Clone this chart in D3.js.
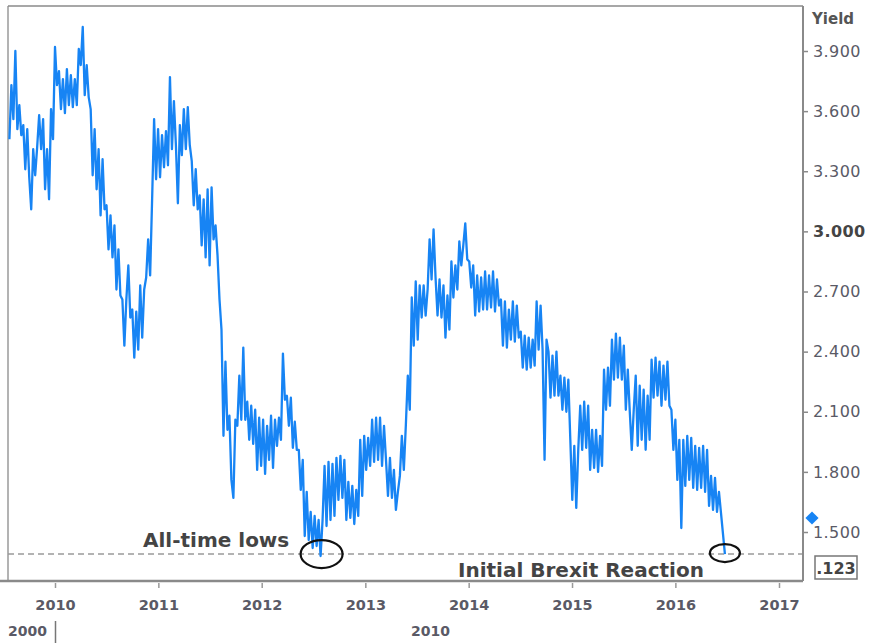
<!DOCTYPE html>
<html>
<head>
<meta charset="utf-8">
<script src="https://cdn.jsdelivr.net/npm/d3@7"></script>
<style>
body { margin: 0; background: #fff; }
text { font-family: "DejaVu Sans", sans-serif; }
</style>
</head>
<body>
<script>
// weekly 10y yield, one array per calendar year
var firstWeek = "2009-07-24";
var y2009 = [3.46,3.73,3.56,3.90,3.51,3.63,3.48,3.53,3.31,3.51,3.27,3.11,3.41,3.28,3.42,3.58,3.41,3.56,3.21,3.41,3.16,3.61,3.46,3.92];
var y2010 = [3.73,3.80,3.61,3.76,3.59,3.81,3.63,3.78,3.62,3.76,3.63,3.91,3.83,4.02,3.68,3.83,3.67,3.61,3.28,3.51,3.21,3.41,3.08,3.36,3.11,3.13,
             2.91,3.08,2.87,3.03,2.71,2.91,2.68,2.66,2.43,2.66,2.83,2.57,2.61,2.37,2.60,2.41,2.73,2.47,2.71,2.77,2.96,2.78,3.16,3.56,3.26,3.51];
var y2011 = [3.27,3.48,3.32,3.50,3.33,3.77,3.41,3.65,3.43,3.14,3.53,3.38,3.61,3.41,3.62,3.43,3.35,3.13,3.31,3.11,3.18,2.93,3.16,2.87,3.21,2.83,
             3.22,2.96,3.03,2.88,2.66,2.51,1.98,2.35,2.01,2.08,1.76,1.67,2.06,2.03,2.28,2.06,2.42,2.06,2.15,1.96,2.13,1.94,2.11,1.81,2.07,1.83];
var y2012 = [2.06,1.79,2.03,1.86,2.08,1.82,2.06,1.93,2.07,1.96,2.39,2.16,2.18,2.03,2.17,1.92,2.05,1.91,1.91,1.71,1.86,1.48,1.70,1.46,1.60,1.42,
             1.58,1.43,1.56,1.38,1.56,1.83,1.53,1.85,1.56,1.84,1.58,1.87,1.66,1.88,1.67,1.86,1.56,1.75,1.57,1.73,1.54,1.71,1.58,1.96,1.68];
var y2013 = [1.98,1.81,1.97,1.83,2.06,1.85,2.07,1.86,2.07,1.83,2.03,1.86,1.68,1.87,1.67,1.81,1.61,1.70,1.78,1.98,1.81,2.03,2.28,2.11,2.67,2.43,
             2.75,2.46,2.73,2.57,2.73,2.58,2.71,2.96,2.76,3.01,2.77,2.58,2.76,2.57,2.73,2.47,2.68,2.51,2.85,2.67,2.83,2.71,2.95,2.83,2.93,3.04];
var y2014 = [2.86,2.85,2.72,2.83,2.58,2.78,2.60,2.77,2.61,2.80,2.61,2.78,2.62,2.80,2.60,2.76,2.63,2.66,2.43,2.65,2.42,2.61,2.46,2.65,2.45,2.63,
             2.47,2.50,2.32,2.48,2.31,2.47,2.32,2.46,2.33,2.65,2.41,2.63,2.41,1.86,2.46,2.40,2.17,2.38,2.18,2.40,2.18,2.28,2.11,2.27,2.10,2.26];
var y2015 = [1.96,1.66,1.93,1.62,1.91,2.13,1.91,2.15,1.92,2.13,1.81,2.01,1.82,2.01,1.80,1.98,1.83,2.31,2.11,2.32,2.13,2.46,2.26,2.49,2.27,2.47,
             2.26,2.43,2.11,2.31,2.10,1.91,2.11,2.28,1.93,2.23,1.96,2.21,1.91,2.18,1.96,2.36,2.17,2.37,2.18,2.35,2.13,2.33,2.16,2.35,2.13,2.11];
var y2016 = [1.91,2.06,1.76,1.96,1.52,1.96,1.73,1.98,1.76,1.97,1.72,1.93,1.71,1.92,1.72,1.93,1.70,1.91,1.63,1.78,1.61,1.77,1.60,1.70];

var brexitDay = ["2016-06-24"];
var brexitLow = [1.39];
var allTimeLow = [1.39];
var lastMark = [1.57];
var yTicks = [1.5, 1.8, 2.1, 2.4, 2.7, 3.0, 3.3, 3.6, 3.9];
var yearTicks = [2010, 2011, 2012, 2013, 2014, 2015, 2016, 2017];
var notes = ["All-time lows", "Initial Brexit Reaction"];

var W = 869, H = 643;
var L = 8, R = 803, T = 6, B = 581;
var blue = "#1784f4", grey = "#8a8a8a", labelCol = "#5a5a66";

var parse = d3.timeParse("%Y-%m-%d");
var weekly = [].concat(y2009, y2010, y2011, y2012, y2013, y2014, y2015, y2016);
var start = parse(firstWeek);
var data = weekly.map(function(v, i) { return {date: d3.timeDay.offset(start, i * 7), v: v}; });
data.push({date: parse(brexitDay[0]), v: brexitLow[0]});

var x = d3.scaleTime()
    .domain([new Date(yearTicks[0], 0, 1), new Date(yearTicks[yearTicks.length - 1], 0, 1)])
    .range([55, 779]);
var y = d3.scaleLinear().domain([1.5, 3.9]).range([532, 51]);

var svg = d3.select("body").append("svg")
    .attr("width", W)
    .attr("height", H);

svg.append("defs").append("clipPath").attr("id", "plot")
  .append("rect").attr("x", L).attr("y", T).attr("width", R - L).attr("height", B - T);

// frame
svg.append("line").attr("x1", L).attr("x2", L).attr("y1", T).attr("y2", B)
    .attr("stroke", "#9a9a9a").attr("stroke-width", 1.5);
svg.append("line").attr("x1", L).attr("x2", R).attr("y1", T).attr("y2", T)
    .attr("stroke", grey).attr("stroke-width", 1.5);

// all-time-low level
svg.append("line")
    .attr("x1", L).attr("x2", R)
    .attr("y1", y(allTimeLow[0])).attr("y2", y(allTimeLow[0]))
    .attr("stroke", "#9b9b9b").attr("stroke-width", 1.5)
    .attr("stroke-dasharray", "6,4");

// the series
svg.append("path")
    .datum(data)
    .attr("clip-path", "url(#plot)")
    .attr("fill", "none")
    .attr("stroke", blue)
    .attr("stroke-width", 2.3)
    .attr("stroke-linejoin", "round")
    .attr("d", d3.line().x(function(d) { return x(d.date); }).y(function(d) { return y(d.v); }));

// right axis
var ya = svg.append("g").attr("transform", "translate(" + R + ",0)")
    .call(d3.axisRight(y).tickValues(yTicks).tickFormat(d3.format(".3f")).tickSize(5).tickPadding(5));
ya.select(".domain").remove();
ya.selectAll(".tick line").attr("stroke", grey).attr("stroke-width", 1.5);
ya.selectAll(".tick text")
    .style("font-size", "16px")
    .style("letter-spacing", "0.4px")
    .style("font-weight", function(d) { return d === 3 ? "bold" : "normal"; })
    .attr("fill", function(d) { return d === 3 ? "#444" : labelCol; });

svg.append("line").attr("x1", R).attr("x2", R).attr("y1", T).attr("y2", B)
    .attr("stroke", grey).attr("stroke-width", 2);

svg.append("text").attr("x", 812).attr("y", 24)
    .text("Yield")
    .attr("fill", "#555")
    .style("font-size", "15px").style("font-weight", "bold");

// bottom axis
var xa = svg.append("g").attr("transform", "translate(0," + B + ")")
    .call(d3.axisBottom(x).ticks(d3.timeYear.every(1)).tickSize(7).tickFormat(d3.timeFormat("%Y")));
xa.select(".domain").remove();
xa.selectAll(".tick line").attr("stroke", "#999").attr("y1", 2).attr("stroke-width", 1.5);
xa.selectAll(".tick text")
    .attr("y", 29).attr("dy", 0)
    .attr("fill", labelCol)
    .style("font-size", "14.5px").style("font-weight", "bold");

svg.append("line").attr("x1", 0).attr("x2", R).attr("y1", B).attr("y2", B)
    .attr("stroke", grey).attr("stroke-width", 2.5);

// decade row
svg.append("text").attr("x", 47).attr("y", 636).attr("text-anchor", "end")
    .text("2000").attr("fill", labelCol)
    .style("font-size", "14px").style("font-weight", "bold");
svg.append("line").attr("x1", 55.5).attr("x2", 55.5).attr("y1", 621).attr("y2", 643)
    .attr("stroke", "#777").attr("stroke-width", 1.5);
svg.append("text").attr("x", 411).attr("y", 636)
    .text("2010").attr("fill", labelCol)
    .style("font-size", "14px").style("font-weight", "bold");

// last value marker and label box
svg.append("path")
    .attr("transform", "translate(812," + y(lastMark[0]) + ")")
    .attr("d", d3.symbol(d3.symbolDiamond2, 110)())
    .attr("fill", blue);
svg.append("rect").attr("x", 815).attr("y", 556).attr("width", 42).attr("height", 23)
    .attr("fill", "#fff").attr("stroke", "#777").attr("stroke-width", 1.5);
svg.append("text").attr("x", 836).attr("y", 574).attr("text-anchor", "middle")
    .text(".123").attr("fill", "#444")
    .style("font-size", "16px").style("font-weight", "bold");

// annotations
svg.append("text").attr("x", 143).attr("y", 547)
    .text(notes[0]).attr("fill", "#444")
    .style("font-size", "20px").style("font-weight", "bold");
svg.append("text").attr("x", 458).attr("y", 577)
    .text(notes[1]).attr("fill", "#444")
    .style("font-size", "20px").style("font-weight", "bold");

var lowPt = data.reduce(function(a, b) { return b.v < a.v ? b : a; });
svg.append("ellipse")
    .attr("cx", x(lowPt.date) + 1).attr("cy", y(allTimeLow[0]))
    .attr("rx", 21).attr("ry", 14)
    .attr("fill", "none").attr("stroke", "#111").attr("stroke-width", 2.2);
svg.append("ellipse")
    .attr("cx", x(parse(brexitDay[0]))).attr("cy", y(brexitLow[0]) - 1)
    .attr("rx", 15).attr("ry", 9)
    .attr("fill", "none").attr("stroke", "#111").attr("stroke-width", 2.2);
</script>
</body>
</html>
